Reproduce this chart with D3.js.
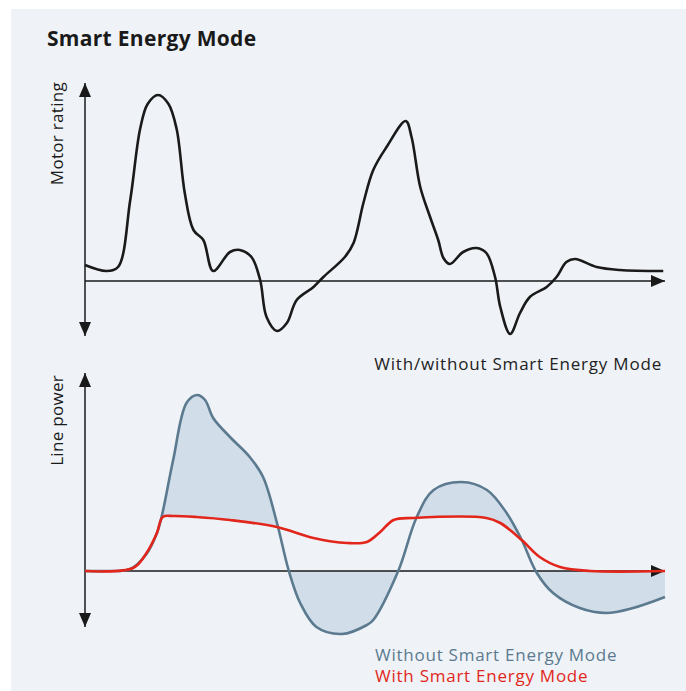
<!DOCTYPE html>
<html>
<head>
<meta charset="utf-8">
<script src="https://cdn.jsdelivr.net/npm/d3@7"></script>
<style>
  body { margin: 0; background: #fff; }
  text { font-family: "Open Sans", "Noto Sans", sans-serif; }
</style>
</head>
<body>
<div id="chart"></div>
<script>
// time axis 0..100, values as offsets from the zero line
var motorT = [0, 3.7, 5.7, 7.8, 9.5, 10.8, 12.6, 14.4, 15.8, 17.2, 18.7, 20.4, 22.1, 25, 26.7, 28.7, 30.2, 31.3, 33.1, 34.8, 36.5, 39.4, 41.1, 44.8, 46.3, 48, 49.7, 52, 55.3, 56.3, 57.8, 59.5, 60.9, 61.8, 62.9, 65.2, 67.5, 69.2, 70.7, 71.6, 73.3, 75, 76.7, 79.6, 81.3, 83, 84.5, 88.2, 92.2, 99.7]
var motorV = [16, 10, 14, 81, 152, 177, 186, 177, 152, 88, 51, 41, 10, 29, 31, 24, 1, -36, -50, -42, -19, -6, 4, 24, 38, 78, 111, 134, 160, 144, 94, 64, 41, 23, 17, 29, 33, 28, 4, -26, -53, -32, -16, -6, 4, 19, 22, 14, 11, 10]

var withoutT = [0, 4, 7.8, 10.6, 12.4, 13.2, 15.2, 17.5, 19.3, 20.7, 22.1, 25, 28.4, 30.7, 33.1, 35.1, 37.1, 39.9, 44.3, 48.6, 49.7, 54, 57.2, 60.1, 64.9, 69.3, 72.7, 75.3, 77.9, 80.7, 85.3, 89.9, 94.5, 100]
var withoutV = [0, 0, 2, 17, 38, 54, 111, 168, 176, 171, 153, 134, 114, 94, 48, 1, -32, -56, -63, -54, -49, 0, 54, 81, 89, 81, 58, 31, -2, -22, -37, -42, -37, -26]

var withT = [0, 8.3, 10.6, 12.4, 13.4, 15.2, 19.2, 25, 33.1, 39.4, 45.2, 48.6, 50.9, 53.2, 56.6, 69.2, 71.6, 75.3, 78.4, 81.9, 87.1, 100]
var withV = [0, 3, 18, 38, 54, 55, 54, 51, 44, 33, 28, 29, 39, 51, 53, 53, 48, 31, 14, 4, 0, 0]

var title = 'Smart Energy Mode'
var topLabel = 'Motor rating'
var bottomLabel = 'Line power'
var topLegend = 'With/without Smart Energy Mode'
var legendNames = ['Without Smart Energy Mode', 'With Smart Energy Mode']

var W = 686, H = 691
var ink = '#1a1a1a'
var blue = '#5b7a8f', blueFill = '#d1dde8', red = '#e2261b'

var svg = d3.select('#chart').append('svg').attr('width', W).attr('height', H)

svg.append('rect').attr('x', 11).attr('y', 9).attr('width', W - 11).attr('height', H - 9).attr('fill', '#eff3f7')

var defs = svg.append('defs')
defs.append('marker').attr('id', 'arr')
  .attr('viewBox', '0 0 14 12').attr('refX', 14).attr('refY', 6)
  .attr('markerWidth', 14).attr('markerHeight', 12).attr('markerUnits', 'userSpaceOnUse')
  .attr('orient', 'auto-start-reverse')
  .append('path').attr('d', 'M0,0L14,6L0,12Z').attr('fill', ink)

var x = d3.scaleLinear().domain([0, 100]).range([85, 665])
var yTop = d3.scaleLinear().domain([-60, 200]).range([341, 81])
var yBot = d3.scaleLinear().domain([-60, 200]).range([631, 371])

var curve = d3.curveCatmullRom.alpha(0.5)

function pts(t, v) { return t.map(function(d, i){ return [d, v[i]] }) }

function axes(y, yMinPx, yMaxPx) {
  svg.append('line').attr('x1', x(0)).attr('x2', x(0)).attr('y1', yMaxPx).attr('y2', yMinPx)
    .attr('stroke', ink).attr('stroke-width', 1.5)
    .attr('marker-start', 'url(#arr)').attr('marker-end', 'url(#arr)')
  svg.append('line').attr('x1', x(0)).attr('x2', x(100)).attr('y1', y(0)).attr('y2', y(0))
    .attr('stroke', ink).attr('stroke-width', 1.5)
    .attr('marker-end', 'url(#arr)')
}

// title
svg.append('text').attr('x', 47).attr('y', 46).text(title)
  .attr('font-size', 21).attr('font-weight', 700).attr('letter-spacing', 0.3).attr('fill', ink)

// ---- top chart
axes(yTop, 336, 83)
svg.append('path').datum(pts(motorT, motorV))
  .attr('d', d3.line().x(function(d){ return x(d[0]) }).y(function(d){ return yTop(d[1]) }).curve(curve))
  .attr('fill', 'none').attr('stroke', ink).attr('stroke-width', 2.6)

svg.append('text').attr('transform', 'translate(63,82) rotate(-90)').attr('text-anchor', 'end')
  .attr('font-size', 17).attr('letter-spacing', 0.3).attr('fill', ink).text(topLabel)
svg.append('text').attr('x', 662).attr('y', 370).attr('text-anchor', 'end')
  .attr('font-size', 17).attr('letter-spacing', 0.8).attr('fill', '#222').text(topLegend)

// ---- bottom chart
var withoutPts = pts(withoutT, withoutV)
var withPts = pts(withT, withV)

// region above the red line
defs.append('clipPath').attr('id', 'aboveRed').append('path').datum(withPts)
  .attr('d', d3.area().x(function(d){ return x(d[0]) }).y0(0).y1(function(d){ return yBot(d[1]) }).curve(curve))
defs.append('clipPath').attr('id', 'belowZero').append('rect')
  .attr('x', 0).attr('y', yBot(0)).attr('width', W).attr('height', H)

// blue above red: between the two lines
svg.append('path').datum(withoutPts)
  .attr('clip-path', 'url(#aboveRed)')
  .attr('d', d3.area().x(function(d){ return x(d[0]) }).y0(H).y1(function(d){ return yBot(d[1]) }).curve(curve))
  .attr('fill', blueFill)
// blue below zero: between line and axis
svg.append('path').datum(withoutPts)
  .attr('clip-path', 'url(#belowZero)')
  .attr('d', d3.area().x(function(d){ return x(d[0]) }).y0(0).y1(function(d){ return yBot(d[1]) }).curve(curve))
  .attr('fill', blueFill)

axes(yBot, 627, 373)

svg.append('path').datum(withoutPts)
  .attr('d', d3.line().x(function(d){ return x(d[0]) }).y(function(d){ return yBot(d[1]) }).curve(curve))
  .attr('fill', 'none').attr('stroke', blue).attr('stroke-width', 2.6)
svg.append('path').datum(withPts)
  .attr('d', d3.line().x(function(d){ return x(d[0]) }).y(function(d){ return yBot(d[1]) }).curve(curve))
  .attr('fill', 'none').attr('stroke', red).attr('stroke-width', 2.6)

svg.append('text').attr('transform', 'translate(63,375) rotate(-90)').attr('text-anchor', 'end')
  .attr('font-size', 17).attr('letter-spacing', 0.3).attr('fill', ink).text(bottomLabel)

svg.selectAll('text.leg').data(legendNames).enter().append('text').attr('class', 'leg')
  .attr('x', 375).attr('y', function(d, i){ return 661 + i * 21 })
  .attr('font-size', 17).attr('letter-spacing', 0.75).attr('fill', function(d, i){ return i ? red : blue })
  .text(function(d){ return d })
</script>
</body>
</html>
